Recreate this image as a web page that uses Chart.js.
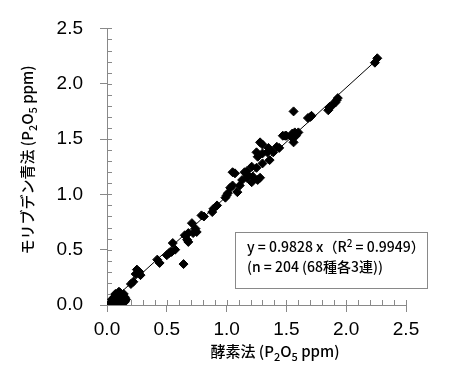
<!DOCTYPE html>
<html>
<head>
<meta charset="utf-8">
<script src="https://cdn.jsdelivr.net/npm/chart.js@4.4.1/dist/chart.umd.min.js"></script>
<style>
  html, body { margin: 0; padding: 0; background: #fff; }
</style>
</head>
<body>
<canvas id="chart" width="465" height="370"></canvas>
<script>
'use strict';

// 酵素法 (x) vs モリブデン青法 (y), P2O5 ppm
const enzymeValues = [
  0.03, 0.04, 0.05, 0.06, 0.07, 0.07, 0.08, 0.09, 0.10, 0.11,
  0.11, 0.12, 0.12, 0.13, 0.14, 0.15, 0.15, 0.16, 0.05, 0.09,
  0.20, 0.22, 0.24, 0.25, 0.27, 0.28,
  0.42, 0.44, 0.50, 0.52, 0.54, 0.55, 0.57, 0.64, 0.65, 0.67,
  0.68, 0.68, 0.71, 0.72, 0.74, 0.75,
  0.79, 0.81, 0.88, 0.89, 0.92, 0.99, 1.00, 1.01, 1.03, 1.05,
  1.05, 1.07, 1.09, 1.11, 1.13, 1.15, 1.17, 1.17, 1.18, 1.21,
  1.22, 1.21, 1.25, 1.26, 1.28, 1.26, 1.25, 1.28, 1.30, 1.30,
  1.30, 1.34, 1.36, 1.35, 1.39, 1.42, 1.44, 1.47, 1.49, 1.50,
  1.55, 1.55, 1.56, 1.57, 1.60, 1.58, 1.56, 1.68, 1.70, 1.71,
  1.85, 1.86, 1.88, 1.91, 1.93, 1.92, 2.24, 2.26
];
const molybdenumValues = [
  0.02, 0.05, 0.03, 0.07, 0.04, 0.10, 0.06, 0.09, 0.12, 0.05,
  0.11, 0.02, 0.08, 0.06, 0.10, 0.03, 0.07, 0.05, 0.01, 0.02,
  0.19, 0.21, 0.28, 0.32, 0.30, 0.27,
  0.41, 0.38, 0.45, 0.47, 0.48, 0.56, 0.50, 0.37, 0.63, 0.59,
  0.57, 0.65, 0.74, 0.65, 0.69, 0.66,
  0.81, 0.80, 0.84, 0.87, 0.90, 0.97, 0.99, 1.01, 1.06, 1.08,
  1.20, 1.19, 1.02, 1.08, 1.13, 1.20, 1.15, 1.21, 1.17, 1.25,
  1.16, 1.11, 1.24, 1.13, 1.15, 1.34, 1.38, 1.47, 1.45, 1.28,
  1.37, 1.38, 1.31, 1.42, 1.38, 1.43, 1.42, 1.53, 1.53, 1.53,
  1.55, 1.51, 1.47, 1.56, 1.56, 1.53, 1.75, 1.69, 1.70, 1.71,
  1.76, 1.79, 1.80, 1.83, 1.87, 1.85, 2.19, 2.23
];

// 近似直線 y = 0.9828x の両端
const trendX = [0.00, 2.26];
const trendY = [0.00, 2.22];

const axisTicks = [0, 0.5, 1.0, 1.5, 2.0, 2.5];

const axisGray = '#898989';
const tickFont = { family: 'Liberation Sans, Arial, sans-serif', size: 19 };
const jpFont = '"Noto Sans CJK JP", sans-serif';

const scatterPoints = enzymeValues.map((x, i) => ({ x: x, y: molybdenumValues[i] }));
const trendPoints = trendX.map((x, i) => ({ x: x, y: trendY[i] }));

// draws a string made of parts, some of them sub- or superscript
function drawParts(ctx, parts, x, y, size, align, weight) {
  const small = Math.round(size * 0.7);
  const w = weight || 'normal';
  let total = 0;
  parts.forEach(p => {
    ctx.font = w + ' ' + (p.sub || p.sup ? small : size) + 'px ' + jpFont;
    p.w = ctx.measureText(p.t).width;
    total += p.w;
  });
  let cx = align === 'center' ? x - total / 2 : x;
  ctx.textAlign = 'left';
  ctx.textBaseline = 'alphabetic';
  parts.forEach(p => {
    ctx.font = w + ' ' + (p.sub || p.sup ? small : size) + 'px ' + jpFont;
    let dy = 0;
    if (p.sub) dy = size * 0.25;
    if (p.sup) dy = -size * 0.38;
    ctx.fillText(p.t, cx, y + dy);
    cx += p.w;
  });
}

const decorations = {
  id: 'decorations',
  beforeDatasetsDraw(chart) {
    const ctx = chart.ctx;
    const xs = chart.scales.x;
    const ys = chart.scales.y;
    const area = chart.chartArea;
    ctx.save();
    ctx.strokeStyle = axisGray;
    ctx.lineWidth = 1;
    ctx.beginPath();
    for (let i = 1; i <= 25; i++) {
      const v = i / 10;
      const px = Math.round(xs.getPixelForValue(v)) + 0.5;
      ctx.moveTo(px, area.bottom);
      ctx.lineTo(px, area.bottom - 5);
      const py = Math.round(ys.getPixelForValue(v)) + 0.5;
      ctx.moveTo(area.left, py);
      ctx.lineTo(area.left + 5, py);
    }
    ctx.stroke();
    ctx.restore();
  },
  afterDraw(chart) {
    const ctx = chart.ctx;
    ctx.save();
    ctx.fillStyle = '#000';

    // x axis title
    drawParts(ctx, [
      { t: '酵素法 (P' }, { t: '2', sub: true }, { t: 'O' }, { t: '5', sub: true }, { t: ' ppm)' }
    ], 275, 357, 15, 'center', '500');

    // y axis title
    ctx.save();
    ctx.translate(33, 160);
    ctx.rotate(-Math.PI / 2);
    drawParts(ctx, [
      { t: 'モリブデン青法 (P' }, { t: '2', sub: true }, { t: 'O' }, { t: '5', sub: true }, { t: ' ppm)' }
    ], 0, 0, 15, 'center', '500');
    ctx.restore();

    // regression box
    ctx.strokeStyle = axisGray;
    ctx.lineWidth = 1;
    ctx.fillStyle = '#fff';
    ctx.fillRect(235.5, 232.5, 192, 56);
    ctx.strokeRect(235.5, 232.5, 192, 56);
    ctx.fillStyle = '#000';
    drawParts(ctx, [
      { t: 'y = 0.9828 x（R' }, { t: '2', sup: true }, { t: ' = 0.9949）' }
    ], 247, 252, 14, 'left', '500');
    drawParts(ctx, [{ t: '(n = 204 (68種各3連))' }], 247, 272, 14, 'left', '500');
    ctx.restore();
  }
};

const canvas = document.querySelector('#chart');
const ctx = canvas.getContext('2d');

const config = {
  type: 'scatter',
  data: {
    datasets: [{
      label: 'trend',
      data: trendPoints,
      showLine: true,
      borderColor: '#000',
      borderWidth: 1,
      pointRadius: 0,
      order: 0
    }, {
      label: 'samples',
      data: scatterPoints,
      pointStyle: 'rectRot',
      pointRadius: 4.5,
      backgroundColor: '#000',
      borderColor: '#000',
      borderWidth: 1,
      order: 1
    }]
  },
  options: {
    responsive: false,
    animation: false,
    devicePixelRatio: 1,
    layout: { padding: { left: 0, right: 59, top: 28, bottom: 0 } },
    plugins: {
      legend: { display: false },
      tooltip: { enabled: false }
    },
    scales: {
      x: {
        type: 'linear',
        min: 0,
        max: 2.5,
        afterBuildTicks: scale => { scale.ticks = axisTicks.map(v => ({ value: v })); },
        afterFit: scale => { scale.height = 65; },
        ticks: {
          font: tickFont,
          color: '#000',
          padding: 6,
          callback: v => v.toFixed(1)
        },
        grid: { drawOnChartArea: false, drawTicks: true, tickLength: 7, color: axisGray },
        border: { color: axisGray, width: 1 }
      },
      y: {
        type: 'linear',
        min: 0,
        max: 2.5,
        afterBuildTicks: scale => { scale.ticks = axisTicks.map(v => ({ value: v })); },
        afterFit: scale => { scale.width = 107; },
        ticks: {
          font: tickFont,
          color: '#000',
          padding: 17,
          callback: v => v.toFixed(1)
        },
        grid: { drawOnChartArea: false, drawTicks: true, tickLength: 7, color: axisGray },
        border: { color: axisGray, width: 1 }
      }
    }
  },
  plugins: [decorations]
};

const chart = new Chart(ctx, config);
chart.render();
</script>
</body>
</html>
